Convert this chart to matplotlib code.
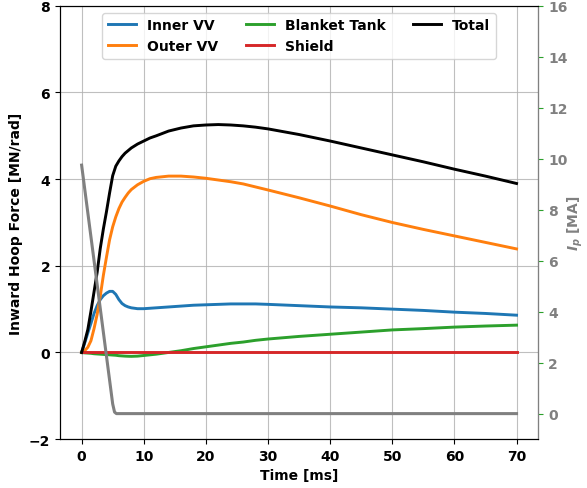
import matplotlib
matplotlib.use("Agg")
import matplotlib.pyplot as plt

plt.rcParams['font.family'] = ['DejaVu Sans']
plt.rcParams['font.weight'] = 'bold'
plt.rcParams['axes.labelweight'] = 'bold'
plt.rcParams['font.size'] = 10
plt.rcParams['mathtext.fontset'] = 'custom'
plt.rcParams['mathtext.it'] = 'DejaVu Sans:italic:bold'
plt.rcParams['mathtext.rm'] = 'DejaVu Sans:bold'

# ---- data ----
time_ms = [0, 0.5, 1, 1.5, 2, 2.5, 3, 3.5, 4, 4.5, 5, 5.5, 6, 6.5, 7, 7.5, 8, 9, 10, 11, 12,
           14, 16, 18, 20, 22, 24, 26, 28, 30, 35, 40, 45, 50, 55, 60, 65, 70]

inner_vv = [0, 0.22, 0.45, 0.67, 0.90, 1.08, 1.22, 1.31, 1.37, 1.41, 1.41, 1.34, 1.22, 1.13, 1.08,
            1.05, 1.03, 1.01, 1.01, 1.02, 1.03, 1.05, 1.07, 1.09, 1.10, 1.11, 1.12, 1.12, 1.12,
            1.11, 1.08, 1.05, 1.03, 1.00, 0.97, 0.93, 0.90, 0.86]

outer_vv = [0, 0.04, 0.12, 0.27, 0.55, 0.88, 1.30, 1.78, 2.20, 2.60, 2.90, 3.13, 3.32, 3.47, 3.58,
            3.68, 3.76, 3.87, 3.95, 4.01, 4.04, 4.07, 4.07, 4.05, 4.02, 3.98, 3.94, 3.89, 3.82,
            3.75, 3.57, 3.38, 3.18, 3.00, 2.84, 2.69, 2.54, 2.39]

blanket_tank = [0, -0.01, -0.015, -0.02, -0.03, -0.035, -0.04, -0.045, -0.05, -0.055, -0.06,
                -0.065, -0.075, -0.08, -0.085, -0.088, -0.09, -0.085, -0.07, -0.055, -0.04,
                0.0, 0.04, 0.09, 0.13, 0.17, 0.21, 0.24, 0.28, 0.31, 0.37, 0.42, 0.47, 0.52,
                0.55, 0.585, 0.61, 0.63]

shield = [0.0] * len(time_ms)

total = [0, 0.25, 0.53, 0.95, 1.40, 1.85, 2.40, 2.85, 3.25, 3.68, 4.08, 4.30, 4.42, 4.52, 4.60,
         4.66, 4.72, 4.81, 4.88, 4.95, 5.00, 5.11, 5.18, 5.23, 5.25, 5.26, 5.25, 5.23, 5.20,
         5.16, 5.03, 4.88, 4.72, 4.56, 4.40, 4.23, 4.07, 3.90]

ip_time = [0, 5.0, 5.3, 5.6, 70]
ip_ma = [9.75, 0.38, 0.06, 0.0, 0.0]

# ---- plot ----
fig = plt.figure(figsize=(5.87, 4.89), dpi=100)
ax = fig.add_subplot(111)
fig.subplots_adjust(left=0.102, right=0.917, top=0.986, bottom=0.100)

lw = 2.1
ax.plot(time_ms, inner_vv, color='tab:blue', lw=lw, label='Inner VV')
ax.plot(time_ms, outer_vv, color='tab:orange', lw=lw, label='Outer VV')
ax.plot(time_ms, blanket_tank, color='tab:green', lw=lw, label='Blanket Tank')
ax.plot(time_ms, shield, color='tab:red', lw=lw, label='Shield')
ax.plot(time_ms, total, color='black', lw=lw, label='Total')

ax.set_ylim(-2, 8)
ax.set_xlim(-3.5, 73.5)
ax.set_xticks([0, 10, 20, 30, 40, 50, 60, 70])
ax.set_yticks([-2, 0, 2, 4, 6, 8])
ax.grid(True, color='#b0b0b0', alpha=0.8)
ax.set_xlabel('Time [ms]')
ax.set_ylabel('Inward Hoop Force [MN/rad]')
ax.legend(loc='upper center', ncol=3, fontsize=10)

ax2 = ax.twinx()
ax2.plot(ip_time, ip_ma, color='gray', lw=2.2)
ax2.set_ylim(-1, 16)
ax2.set_yticks([0, 2, 4, 6, 8, 10, 12, 14, 16])
ax2.spines['right'].set_color('gray')
ax2.tick_params(axis='y', colors='tab:green', labelcolor='gray')
ax2.set_ylabel('$I_p$ [MA]', color='gray', labelpad=-1)

fig.savefig('out.png', dpi=100)
